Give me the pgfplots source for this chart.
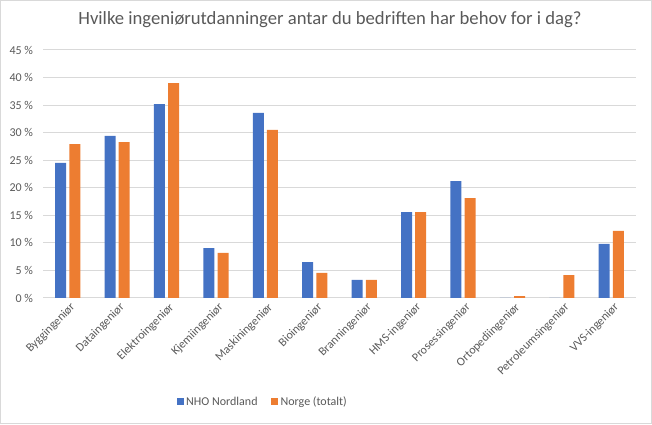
\documentclass[border=0pt]{standalone}
\usepackage{pgfplots}
\pgfplotsset{compat=1.18}
\usepackage{fontspec}
\setmainfont{Carlito}
\definecolor{exblue}{HTML}{4472C4}
\definecolor{exorange}{HTML}{ED7D31}
\definecolor{txt}{HTML}{595959}
\definecolor{gridc}{HTML}{D9D9D9}
\begin{document}
\begin{tikzpicture}[x=1pt,y=1pt]
\draw[gridc, line width=0.75pt] (0.375,0.375) rectangle (488.625,317.625);
\node[txt, font=\fontsize{14}{16}\selectfont] at (247.5,303) {Hvilke ingeniørutdanninger antar du bedriften har behov for i dag?};
\begin{axis}[
  at={(32.25pt,94.5pt)}, anchor=south west, scale only axis,
  width=444.75pt, height=186pt,
  ybar, bar width=8.25pt,
  xmin=-0.5, xmax=11.5, ymin=0, ymax=45,
  xtick={0,...,11},
  xticklabels={Byggingeniør,Dataingeniør,Elektroingeniør,Kjemiingeniør,Maskiningeniør,Bioingeniør,Branningeniør,HMS-ingeniør,Prosessingeniør,Ortopediingeniør,Petroleumsingeniør,VVS-ingeniør},
  x tick label style={rotate=45, anchor=north east, font=\fontsize{9}{10}\selectfont, text=txt, inner sep=1pt, yshift=-2pt},
  ytick={0,5,...,45},
  yticklabels={0 \%,5 \%,10 \%,15 \%,20 \%,25 \%,30 \%,35 \%,40 \%,45 \%},
  y tick label style={font=\fontsize{9}{10}\selectfont, text=txt, xshift=-4pt},
  ymajorgrids, grid style={gridc, line width=0.75pt},
  axis line style={draw=none},
  major tick length=0pt,
  legend style={at={(0.371,-0.419)}, anchor=center, draw=none, legend columns=-1,
    font=\fontsize{9}{10}\selectfont, text=txt,
    /tikz/every even column/.append style={column sep=8pt}},
  legend image code/.code={\fill[#1] (0pt,-2.6pt) rectangle (5.25pt,2.6pt);},
]
\addplot[fill=exblue, draw=none, bar shift=-5.3pt] coordinates {
 (0,24.5) (1,29.4) (2,35.2) (3,9.07) (4,33.6) (5,6.53) (6,3.27) (7,15.6) (8,21.2) (9,0) (10,0) (11,9.8)};
\addplot[fill=exorange, draw=none, bar shift=5.3pt] coordinates {
 (0,27.9) (1,28.3) (2,39.0) (3,8.17) (4,30.5) (5,4.54) (6,3.27) (7,15.6) (8,18.1) (9,0.36) (10,4.17) (11,12.2)};
\legend{NHO Nordland, Norge (totalt)}
\end{axis}
\end{tikzpicture}
\end{document}
